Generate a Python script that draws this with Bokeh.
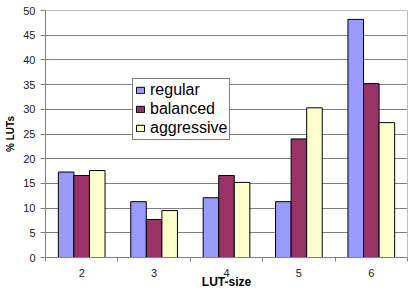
from bokeh.plotting import figure
from bokeh.models import ColumnDataSource, FixedTicker, Range1d, Legend, LegendItem
from bokeh.embed import file_html
from bokeh.resources import INLINE

categories = ["2", "3", "4", "5", "6"]
series_names = ["regular", "balanced", "aggressive"]
regular = [17.3, 11.3, 12.1, 11.3, 48.2]
balanced = [16.6, 7.7, 16.6, 24.0, 35.2]
aggressive = [17.6, 9.5, 15.2, 30.3, 27.3]
colors = ["#9999FF", "#993366", "#FFFFCC"]
y_ticks = [0, 5, 10, 15, 20, 25, 30, 35, 40, 45, 50]

FONT = "Liberation Sans"
bar_w = 0.215
offsets = [-0.215, 0.0, 0.215]

p = figure(width=408, height=291, output_backend="svg", toolbar_location=None,
           x_range=Range1d(0, len(categories)), y_range=Range1d(0, 50),
           min_border_left=45, min_border_right=1, min_border_top=10, min_border_bottom=0)
p.background_fill_color = "white"
p.border_fill_color = "white"
p.outline_line_color = "#c0c0c0"

centers = [i + 0.5 for i in range(len(categories))]
renderers = []
for vals, off, col in zip([regular, balanced, aggressive], offsets, colors):
    src = ColumnDataSource(dict(x=[c + off for c in centers], top=vals))
    r = p.vbar(x="x", top="top", width=bar_w, bottom=0, source=src,
               fill_color=col, line_color="black", line_width=1)
    renderers.append(r)

# axes
xa = p.xaxis[0]
xa.ticker = FixedTicker(ticks=centers, minor_ticks=list(range(len(categories) + 1)))
xa.major_label_overrides = {c: lab for c, lab in zip(centers, categories)}
xa.major_tick_out = 0
xa.major_tick_in = 0
xa.minor_tick_out = 4
xa.minor_tick_in = 0
xa.minor_tick_line_color = "#808080"
xa.axis_line_color = "#808080"
xa.major_label_text_font = FONT
xa.major_label_text_font_size = "11px"
xa.major_label_text_color = "#222222"
xa.major_label_standoff = 7
xa.axis_label = "LUT-size"
xa.axis_label_text_font = FONT
xa.axis_label_text_font_size = "12px"
xa.axis_label_text_font_style = "bold"
xa.axis_label_text_color = "black"
xa.axis_label_standoff = -5

ya = p.yaxis[0]
ya.ticker = FixedTicker(ticks=y_ticks)
ya.major_tick_out = 5
ya.major_tick_in = 0
ya.minor_tick_out = 0
ya.minor_tick_in = 0
ya.major_tick_line_color = "#808080"
ya.axis_line_color = "#808080"
ya.major_label_text_font = FONT
ya.major_label_text_font_size = "11px"
ya.major_label_text_color = "#222222"
ya.major_label_standoff = 5
ya.axis_label = "% LUTs"
ya.axis_label_text_font = FONT
ya.axis_label_text_font_size = "10px"
ya.axis_label_text_font_style = "bold"
ya.axis_label_text_color = "black"
ya.axis_label_standoff = 4

p.xgrid.grid_line_color = None
p.ygrid.ticker = FixedTicker(ticks=y_ticks)
p.ygrid.grid_line_color = "#808080"
p.ygrid.grid_line_width = 1

legend = Legend(items=[LegendItem(label=n, renderers=[r]) for n, r in zip(series_names, renderers)],
                location=(87, 117))
legend.label_text_font = FONT
legend.label_text_font_size = "16px"
legend.label_text_color = "black"
legend.glyph_width = 10
legend.glyph_height = 8
legend.label_height = 14
legend.spacing = 1
legend.padding = 2
legend.margin = 0
legend.label_standoff = 5
legend.border_line_color = "black"
legend.border_line_width = 1
legend.background_fill_color = "white"
legend.background_fill_alpha = 1
p.add_layout(legend, "center")

open("out.html", "w").write(file_html(p, INLINE))
